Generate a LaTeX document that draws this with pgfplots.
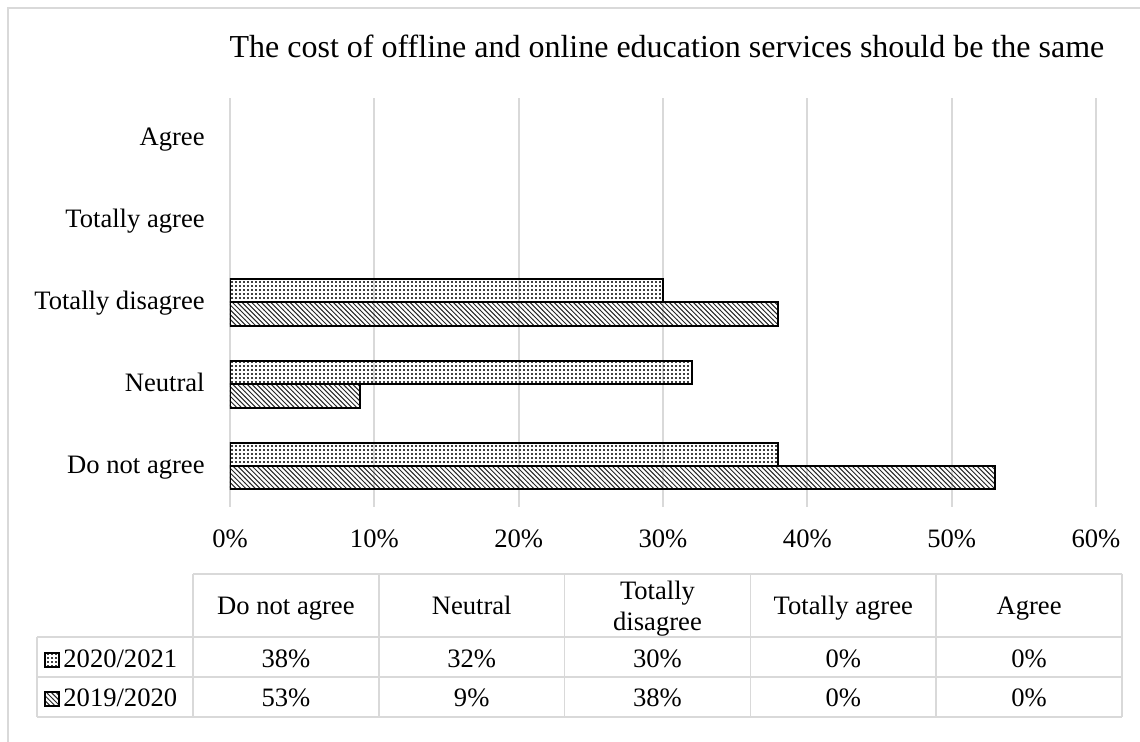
\documentclass[border=0pt]{standalone}
\usepackage{fontspec}
\setmainfont{Liberation Serif}
\usepackage{pgfplots}
\pgfplotsset{compat=1.18}
\usetikzlibrary{patterns}
\definecolor{gridgray}{HTML}{D9D9D9}
\definecolor{tablegray}{HTML}{D9D9D9}
\pgfdeclarepatternformonly{mydots}{\pgfqpoint{-0.6pt}{-0.6pt}}{\pgfqpoint{0.6pt}{0.6pt}}{\pgfqpoint{2pt}{2pt}}{\pgfpathrectangle{\pgfqpoint{-0.5pt}{-0.5pt}}{\pgfqpoint{1pt}{1pt}}\pgfusepath{fill}}
\pgfdeclarepatternformonly{myhatch}{\pgfqpoint{-1pt}{-1pt}}{\pgfqpoint{3.4pt}{3.4pt}}{\pgfqpoint{2.4pt}{2.4pt}}{\pgfsetlinewidth{0.5pt}\pgfpathmoveto{\pgfqpoint{0pt}{2.4pt}}\pgfpathlineto{\pgfqpoint{2.5pt}{-0.1pt}}\pgfusepath{stroke}}
\begin{document}
\begin{tikzpicture}
\begin{scope}[x=0.5pt,y=-0.5pt]
\useasboundingbox (0,0) rectangle (1140,742);
\draw[tablegray, line width=0.75pt] (8,742) -- (8,8) -- (1140,8);
\end{scope}
\node[anchor=base, font=\fontsize{16}{19}\selectfont] at (333.5pt,-29pt) {The cost of offline and online education services should be the same};
\begin{axis}[
  at={(115pt,-253.5pt)}, anchor=south west,
  scale only axis, width=433pt, height=204.5pt,
  xmin=0, xmax=60, ymin=-0.5, ymax=4.5,
  axis line style={draw=none},
  xtick={0,10,...,60},
  xticklabels={0\%,10\%,20\%,30\%,40\%,50\%,60\%},
  ytick={0,1,2,3,4},
  yticklabels={Do not agree,Neutral,Totally disagree,Totally agree,Agree},
  major tick length=0pt,
  xmajorgrids,
  major grid style={draw=gridgray, line width=0.85pt},
  ticklabel style={font=\fontsize{13.3}{16}\selectfont},
  xticklabel style={anchor=base, inner sep=0pt, yshift=-20pt},
  yticklabel style={anchor=base east, inner sep=0pt, xshift=-12.5pt, yshift=-3.5pt},
]
% 2020/2021
\addplot[xbar, bar width=0.285, bar shift=0.1425, draw=black, line width=1pt, pattern=mydots, pattern color=black!75]
  coordinates {(38,0) (32,1) (30,2)};
% 2019/2020
\addplot[xbar, bar width=0.285, bar shift=-0.1425, draw=black, line width=1pt, pattern=myhatch, pattern color=black!85]
  coordinates {(53,0) (9,1) (38,2)};
\end{axis}
\begin{scope}[x=0.5pt,y=-0.5pt, font=\fontsize{13.3}{16}\selectfont]
\draw[tablegray, line width=0.85pt] (193,574) -- (1122,574);
\draw[tablegray, line width=0.85pt] (37,637) -- (1122,637);
\draw[tablegray, line width=0.85pt] (37,677) -- (1122,677);
\draw[tablegray, line width=0.85pt] (37,717) -- (1122,717);
\draw[tablegray, line width=0.85pt] (37,637) -- (37,717);
\foreach \xx in {193,378.8,564.6,750.4,936.2,1122}
  \draw[tablegray, line width=0.85pt] (\xx,574) -- (\xx,717);
\node[anchor=base] at (285.9,614) {Do not agree};
\node[anchor=base] at (471.7,614) {Neutral};
\node[anchor=base] at (657.5,599) {Totally};
\node[anchor=base] at (657.5,630) {disagree};
\node[anchor=base] at (843.3,614) {Totally agree};
\node[anchor=base] at (1029.1,614) {Agree};
\draw[black, line width=0.8pt, pattern=mydots, pattern color=black!75] (45,653) rectangle (59,667);
\draw[black, line width=0.8pt, pattern=myhatch, pattern color=black!85] (45,692) rectangle (59,706);
\node[anchor=base west, inner sep=0pt] at (63,667) {2020/2021};
\node[anchor=base west, inner sep=0pt] at (63,706) {2019/2020};
\node[anchor=base] at (285.9,667) {38\%};
\node[anchor=base] at (471.7,667) {32\%};
\node[anchor=base] at (657.5,667) {30\%};
\node[anchor=base] at (843.3,667) {0\%};
\node[anchor=base] at (1029.1,667) {0\%};
\node[anchor=base] at (285.9,706) {53\%};
\node[anchor=base] at (471.7,706) {9\%};
\node[anchor=base] at (657.5,706) {38\%};
\node[anchor=base] at (843.3,706) {0\%};
\node[anchor=base] at (1029.1,706) {0\%};
\end{scope}
\end{tikzpicture}
\end{document}
